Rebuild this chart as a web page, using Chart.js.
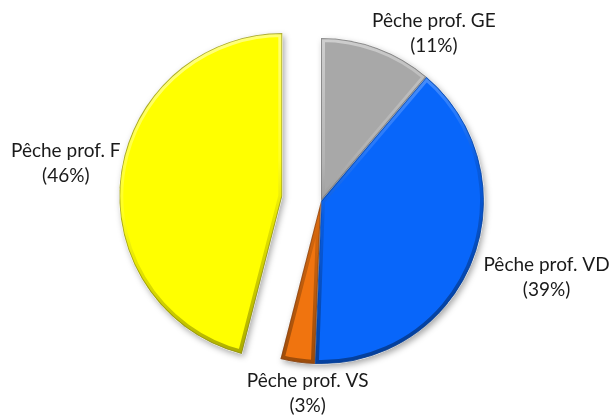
<!DOCTYPE html>
<html>
<head>
<meta charset="utf-8">
<script src="https://cdn.jsdelivr.net/npm/chart.js@4/dist/chart.umd.min.js"></script>
<style>
  html, body { margin: 0; padding: 0; background: #fff; }
  #wrap { width: 613px; height: 419px; }
</style>
</head>
<body>
<div id="wrap"><canvas id="pie" width="613" height="419"></canvas></div>
<script>
// data (clockwise from 12 o'clock)
const labels = ['Pêche prof. GE', 'Pêche prof. VD', 'Pêche prof. VS', 'Pêche prof. F'];
const shares = [11.2, 39.4, 3.4, 46.0];

const colours = ['#A8A8A8', '#0866FA', '#F0740F', '#FFFF00'];
const edges = ['#6e6e6e', '#03409e', '#8a3c05', '#8f8f00'];
const explode = [0, 0, 0, 39];          // px pulled out of the pie
const labelTurn = [13.8, -2.6, -4.3, 1.4]; // degrees off the slice middle
const labelReach = [39, 75, 30, 56];     // px beyond the rim

const DEG = Math.PI / 180;

function slicePath(ctx, el) {
  ctx.beginPath();
  ctx.moveTo(el.x, el.y);
  ctx.arc(el.x, el.y, el.outerRadius, el.startAngle, el.endAngle);
  ctx.closePath();
}

const explodePlugin = {
  id: 'explode',
  afterDatasetUpdate(chart, args) {
    const meta = chart.getDatasetMeta(args.index);
    meta.data.forEach((el, i) => {
      const d = explode[i] || 0;
      if (!d) return;
      const mid = (el.startAngle + el.endAngle) / 2;
      el.x += Math.cos(mid) * d;
      el.y += Math.sin(mid) * d;
    });
  }
};

// soft shadow under the slices + bevelled rims on top of them
const bevelPlugin = {
  id: 'bevel',
  beforeDatasetsDraw(chart) {
    const ctx = chart.ctx;
    ctx.save();
    ctx.shadowColor = 'rgba(0,0,0,0.35)';
    ctx.shadowBlur = 6;
    ctx.shadowOffsetX = 2;
    ctx.shadowOffsetY = 3;
    ctx.fillStyle = '#ffffff';
    chart.getDatasetMeta(0).data.forEach(el => {
      slicePath(ctx, el);
      ctx.fill();
    });
    ctx.restore();
  },
  afterDatasetsDraw(chart) {
    const ctx = chart.ctx;
    chart.getDatasetMeta(0).data.forEach((el, i) => {
      const { x, y, outerRadius: r } = el;
      ctx.save();
      slicePath(ctx, el);
      ctx.clip();
      const g = ctx.createLinearGradient(x - r * 0.35, y - r, x + r * 0.35, y + r);
      g.addColorStop(0, 'rgba(255,255,255,0.5)');
      g.addColorStop(0.4, 'rgba(255,255,255,0.12)');
      g.addColorStop(0.55, 'rgba(0,0,0,0.1)');
      g.addColorStop(1, 'rgba(0,0,0,0.4)');
      slicePath(ctx, el);
      ctx.lineWidth = 8;
      ctx.lineJoin = 'round';
      ctx.strokeStyle = g;
      ctx.stroke();
      slicePath(ctx, el);
      ctx.lineWidth = 2;
      ctx.strokeStyle = edges[i];
      ctx.globalAlpha = 0.75;
      ctx.stroke();
      ctx.restore();
    });
  }
};

const labelPlugin = {
  id: 'outerLabels',
  afterDraw(chart) {
    const ctx = chart.ctx;
    const meta = chart.getDatasetMeta(0);
    const total = shares.reduce((a, b) => a + b, 0);
    ctx.save();
    ctx.font = '19px Lato, "Open Sans", sans-serif';
    ctx.fillStyle = '#1a1a1a';
    ctx.textAlign = 'center';
    ctx.textBaseline = 'middle';
    meta.data.forEach((el, i) => {
      const mid = (el.startAngle + el.endAngle) / 2 + labelTurn[i] * DEG;
      const d = el.outerRadius + labelReach[i];
      const cx = el.x + Math.cos(mid) * d;
      const cy = el.y + Math.sin(mid) * d;
      const pct = Math.round(shares[i] / total * 100);
      ctx.fillText(labels[i], cx, cy - 12.5);
      ctx.fillText('(' + pct + '%)', cx, cy + 12.5);
    });
    ctx.restore();
  }
};

new Chart(document.getElementById('pie'), {
  type: 'pie',
  data: {
    labels: labels,
    datasets: [{
      data: shares,
      backgroundColor: colours,
      borderColor: '#ffffff',
      borderWidth: 1,
      radius: 163
    }]
  },
  options: {
    responsive: false,
    animation: false,
    events: [],
    layout: { padding: { left: 29, right: 0, top: 0, bottom: 17 } },
    plugins: {
      legend: { display: false },
      title: { display: false },
      tooltip: { enabled: false }
    }
  },
  plugins: [explodePlugin, bevelPlugin, labelPlugin]
});
</script>
</body>
</html>
